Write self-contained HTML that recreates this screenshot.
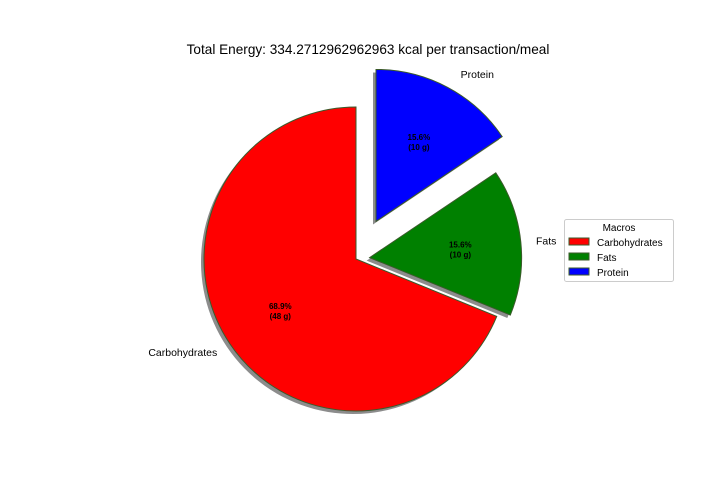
<!DOCTYPE html>
<html><head><meta charset="utf-8"><style>
body{margin:0;background:#fff;}
svg{display:block;font-family:"Liberation Sans","DejaVu Sans",sans-serif;}
</style></head><body>
<svg id="chart" width="720" height="504" viewBox="0 0 720 504">
<rect width="720" height="504" fill="#fff"/>
<text x="368" y="54" text-anchor="middle" font-size="13.6">Total Energy: 334.2712962962963 kcal per transaction/meal</text>
<g id="pie"></g>
<g>
<rect x="564.5" y="219.5" width="109" height="62" rx="2" fill="#fff" stroke="#ccc"/>
<text x="619" y="231" text-anchor="middle" font-size="10">Macros</text>
<g id="legend-items"></g>
</g>
</svg>
<script>
const labels = ["Carbohydrates","Fats","Protein"];
const percents = [68.9, 15.6, 15.6];
const grams = [48, 10, 10];
const colors = ["#ff0000","#008000","#0000ff"];
const explode = [0, 0.09, 0.28];

const NS = "http://www.w3.org/2000/svg";
const cx = 356, cy = 259, R = 152, startAngle = 90;
const pie = document.getElementById("pie");
const total = percents.reduce((a,b)=>a+b,0);
function pt(x,y,r,deg){const a=deg*Math.PI/180;return [x+r*Math.cos(a), y-r*Math.sin(a)];}
function wedge(x,y,a0,a1){
  const p0=pt(x,y,R,a0), p1=pt(x,y,R,a1);
  const large=(a1-a0)>180?1:0;
  return `M${x},${y} L${p0[0]},${p0[1]} A${R},${R} 0 ${large} 0 ${p1[0]},${p1[1]} Z`;
}
let a=startAngle;
const geo=[];
percents.forEach((v,i)=>{
  const span=v/total*360, mid=a+span/2;
  const off=pt(0,0,explode[i]*R,mid);
  geo.push({a0:a,a1:a+span,mid,x:cx+off[0],y:cy+off[1]});
  a+=span;
});
geo.forEach((g,i)=>{
  const s=document.createElementNS(NS,"path");
  s.setAttribute("d",wedge(g.x-3,g.y+3,g.a0,g.a1));
  s.setAttribute("fill","#000");s.setAttribute("opacity","0.45");
  
  
  pie.appendChild(s);
});
geo.forEach((g,i)=>{
  const p=document.createElementNS(NS,"path");
  p.setAttribute("d",wedge(g.x,g.y,g.a0,g.a1));
  p.setAttribute("fill",colors[i]);p.setAttribute("stroke","#3a5a2a");p.setAttribute("stroke-width","1");
  
  
  pie.appendChild(p);
  const lp=pt(g.x,g.y,R*1.1,g.mid);
  const t=document.createElementNS(NS,"text");
  const c=Math.cos(g.mid*Math.PI/180);
  t.setAttribute("x",lp[0]+(c>0.01&&c<0.6?6:0));t.setAttribute("y",lp[1]+4);
  t.setAttribute("text-anchor",c<-0.01?"end":(c>0.01?"start":"middle"));
  t.setAttribute("font-size","10.5");t.textContent=labels[i];
  
  
  pie.appendChild(t);
  const pp=pt(g.x,g.y,R*0.6,g.mid);
  const t2=document.createElementNS(NS,"text");
  t2.setAttribute("text-anchor","middle");t2.setAttribute("font-size","8");t2.setAttribute("font-weight","bold");
  t2.innerHTML=`<tspan x="${pp[0]}" y="${pp[1]-1}">${percents[i].toFixed(1)}%</tspan><tspan x="${pp[0]}" y="${pp[1]+9}">(${grams[i]} g)</tspan>`;
  
  
  pie.appendChild(t2);
});
const li=document.getElementById("legend-items");
labels.forEach((l,i)=>{
  const y=238+i*15;
  const r=document.createElementNS(NS,"rect");
  r.setAttribute("x",569);r.setAttribute("y",y);r.setAttribute("width",20);r.setAttribute("height",7);
  r.setAttribute("fill",colors[i]);r.setAttribute("stroke","#3a5a2a");
  
  
  li.appendChild(r);
  const t=document.createElementNS(NS,"text");
  t.setAttribute("x",597);t.setAttribute("y",y+8);t.setAttribute("font-size","10");t.textContent=l;
  
  
  li.appendChild(t);
});
</script>
</body></html>
